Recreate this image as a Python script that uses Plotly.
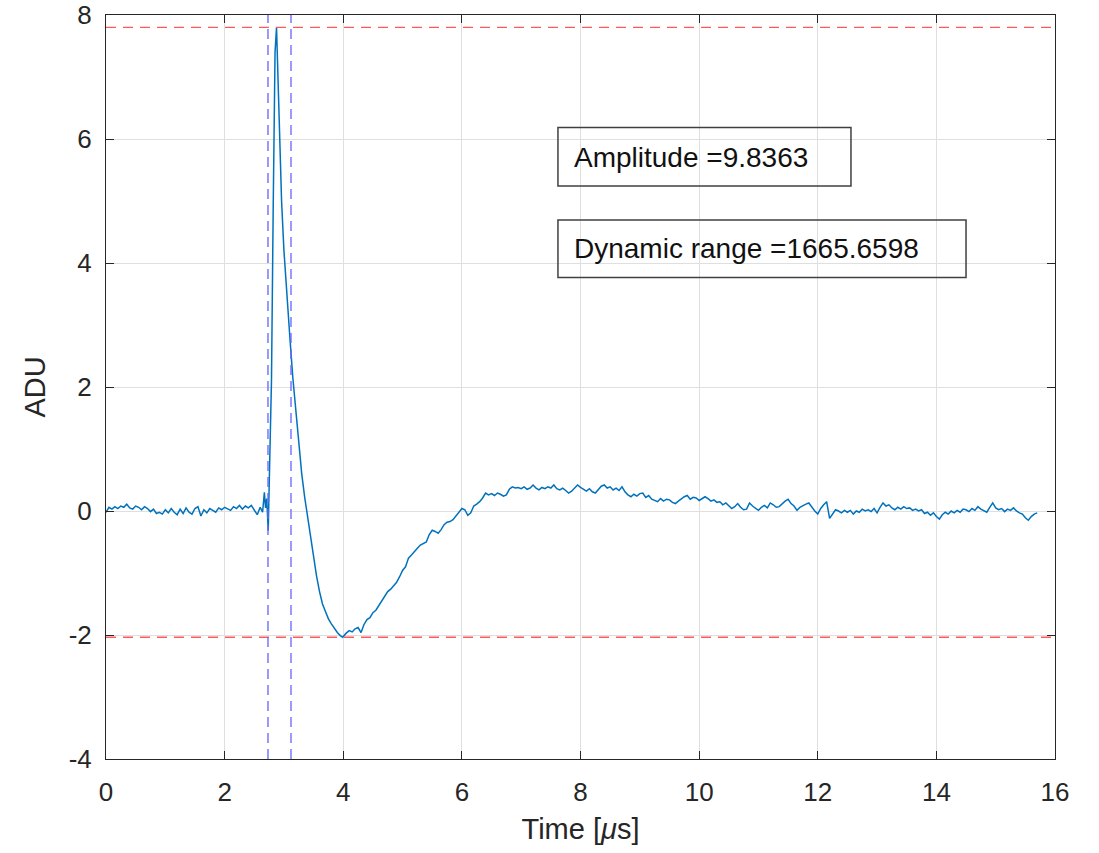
import plotly.graph_objects as go

# ---- data (time in microseconds, signal in ADU) ----
baseline = [(0.00,-0.02),(0.05,0.06),(0.10,0.03),(0.15,0.07),(0.20,0.04),(0.25,0.08),(0.30,0.06),
            (0.35,0.11),(0.40,0.05),(0.45,0.03),(0.50,0.08),(0.55,0.06),(0.60,0.02),(0.65,0.07),
            (0.70,0.04),(0.75,-0.01),(0.80,0.03),(0.85,-0.04),(0.90,-0.02),(0.95,-0.05),(1.00,0.02),
            (1.05,-0.03),(1.10,0.04),(1.15,-0.02),(1.20,-0.06),(1.25,0.03),(1.30,-0.04),(1.35,0.05),
            (1.40,-0.02),(1.45,-0.05),(1.50,0.04),(1.55,0.07),(1.60,-0.08),(1.65,0.02),(1.70,-0.03),
            (1.75,0.04),(1.80,0.01),(1.85,-0.02),(1.90,0.05),(1.95,0.02),(2.00,0.06),(2.05,0.03),
            (2.10,0.01),(2.15,0.07),(2.20,0.04),(2.25,0.09),(2.30,0.03),(2.35,0.08),(2.40,0.05),
            (2.45,0.09),(2.50,0.02),(2.55,-0.06),(2.60,0.06)]

pulse_time = [2.64,2.67,2.69,2.71,2.735,2.76,2.79,2.82,2.85,2.875,2.90,2.93,2.96,3.00,3.05,
              3.10,3.15,3.20,3.25,3.30,3.35,3.40,3.45,3.50,3.55,3.60,3.65,3.70,3.75,3.80,
              3.85,3.90,3.95,3.99]
pulse_adu = [-0.02,0.30,0.05,0.20,-0.32,0.80,2.10,4.98,7.40,7.80,6.90,5.90,5.00,4.20,3.40,
             2.80,2.15,1.60,1.05,0.60,0.22,-0.10,-0.45,-0.80,-1.05,-1.30,-1.50,-1.62,-1.74,-1.82,
             -1.90,-1.96,-2.01,-2.036]

recovery = [(4.05,-1.97),(4.10,-1.93),(4.15,-1.95),(4.20,-1.90),(4.25,-1.88),(4.30,-1.96),(4.35,-1.83),
            (4.40,-1.75),(4.45,-1.72),(4.50,-1.64),(4.55,-1.60),(4.60,-1.52),(4.65,-1.45),(4.70,-1.36),
            (4.75,-1.30),(4.80,-1.26),(4.85,-1.20),(4.90,-1.15),(4.95,-1.06),(5.00,-0.96),(5.05,-0.90),
            (5.10,-0.76),(5.15,-0.71),(5.20,-0.65),(5.25,-0.60),(5.30,-0.55),(5.35,-0.53),(5.40,-0.50),
            (5.45,-0.38),(5.50,-0.31),(5.55,-0.33),(5.60,-0.36),(5.65,-0.30),(5.70,-0.22),(5.75,-0.18),
            (5.80,-0.17),(5.85,-0.14),(5.90,-0.08),(5.95,-0.01),(6.00,0.04)]

plateau = [(6.05,0.02),(6.10,-0.07),(6.15,-0.03),(6.20,0.08),(6.25,0.11),(6.30,0.15),(6.35,0.21),
           (6.40,0.29),(6.45,0.26),(6.50,0.28),(6.55,0.25),(6.60,0.29),(6.65,0.27),(6.70,0.24),
           (6.75,0.26),(6.80,0.35),(6.85,0.39),(6.90,0.37),(6.95,0.38),(7.00,0.36),(7.05,0.39),
           (7.10,0.35),(7.15,0.37),(7.20,0.42),(7.25,0.37),(7.30,0.34),(7.35,0.38),(7.40,0.36),
           (7.45,0.39),(7.50,0.37),(7.55,0.42),(7.60,0.36),(7.65,0.34),(7.70,0.37),(7.75,0.33),
           (7.80,0.29),(7.85,0.32),(7.90,0.37),(7.95,0.42),(8.00,0.38),(8.05,0.35),(8.10,0.32),
           (8.15,0.36),(8.20,0.31),(8.25,0.29),(8.30,0.34),(8.35,0.40),(8.40,0.42),(8.45,0.37),
           (8.50,0.39),(8.55,0.34),(8.60,0.37),(8.65,0.33),(8.70,0.39),(8.75,0.31),(8.80,0.26),
           (8.85,0.23),(8.90,0.27),(8.95,0.24),(9.00,0.28),(9.05,0.29),(9.10,0.22),(9.15,0.25),
           (9.20,0.19),(9.25,0.17),(9.30,0.15),(9.35,0.20),(9.40,0.16),(9.45,0.19),(9.50,0.18),
           (9.55,0.14),(9.60,0.12),(9.65,0.16),(9.70,0.20),(9.75,0.23),(9.80,0.25),(9.85,0.19),
           (9.90,0.22),(9.95,0.21),(10.00,0.17),(10.05,0.20),(10.10,0.23),(10.15,0.20),(10.20,0.16),
           (10.25,0.18),(10.30,0.14),(10.35,0.15),(10.40,0.10),(10.45,0.13),(10.50,0.08),(10.55,0.04),
           (10.60,0.07),(10.65,0.12),(10.70,0.06),(10.75,0.02)]

tail = [(10.80,0.03),(10.85,0.13),(10.90,0.08),(10.95,0.04),(11.00,0.01),(11.05,0.06),(11.10,0.09),
        (11.15,0.05),(11.20,0.13),(11.25,0.10),(11.30,0.06),(11.35,0.07),(11.40,0.12),(11.45,0.16),
        (11.50,0.19),(11.55,0.12),(11.60,0.08),(11.65,0.01),(11.70,0.06),(11.75,0.09),(11.80,0.11),
        (11.85,0.13),(11.90,0.06),(11.95,0.00),(12.00,-0.05),(12.05,0.04),(12.10,0.10),(12.15,0.15),
        (12.20,-0.12),(12.25,-0.04),(12.30,0.02),(12.35,0.00),(12.40,-0.03),(12.45,0.01),(12.50,-0.02),
        (12.55,0.01),(12.60,-0.05),(12.65,0.00),(12.70,-0.02),(12.75,0.03),(12.80,0.00),(12.85,0.02),
        (12.90,-0.01),(12.95,0.04),(13.00,-0.03),(13.05,0.06),(13.10,0.13),(13.15,0.08),(13.20,0.10),
        (13.25,0.05),(13.30,0.02),(13.35,0.06),(13.40,0.03),(13.45,0.07),(13.50,0.04),(13.55,0.05),
        (13.60,0.01),(13.65,0.03),(13.70,0.00),(13.75,0.02),(13.80,-0.04),(13.85,-0.02),(13.90,-0.07),
        (13.95,-0.03),(14.00,-0.09),(14.05,-0.13),(14.10,-0.06),(14.15,-0.02),(14.20,-0.05),(14.25,0.00),
        (14.30,-0.03),(14.35,0.01),(14.40,-0.02),(14.45,0.03),(14.50,0.02),(14.55,-0.01),(14.60,0.04),
        (14.65,0.01),(14.70,0.07),(14.75,0.03),(14.80,0.00),(14.85,-0.02),(14.90,0.06),(14.95,0.13),
        (15.00,0.05),(15.05,0.02),(15.10,0.04),(15.15,-0.01),(15.20,0.03),(15.25,0.01),(15.30,0.05),
        (15.35,0.00),(15.40,-0.03),(15.45,-0.05),(15.50,-0.11),(15.55,-0.15),(15.60,-0.09),(15.65,-0.05),
        (15.70,-0.03)]

max_level = 7.80
min_level = -2.036
pulse_start = 2.731
pulse_end = 3.119
amplitude_text = "Amplitude =9.8363"
range_text = "Dynamic range =1665.6598"

x_ticks = [0, 2, 4, 6, 8, 10, 12, 14, 16]
x_tick_labels = ["0", "2", "4", "6", "8", "10", "12", "14", "16"]
y_ticks = [-4, -2, 0, 2, 4, 6, 8]
y_tick_labels = ["-4", "-2", "0", "2", "4", "6", "8"]

# ---- assemble series ----
time = [p[0] for p in baseline] + pulse_time + [p[0] for p in recovery] + \
       [p[0] for p in plateau] + [p[0] for p in tail]
adu = [p[1] for p in baseline] + pulse_adu + [p[1] for p in recovery] + \
      [p[1] for p in plateau] + [p[1] for p in tail]

FONT = "Liberation Sans, Arial, Helvetica, sans-serif"
AX = "#262626"

fig = go.Figure()
fig.add_trace(go.Scatter(x=time, y=adu, mode="lines",
                         line=dict(color="#0072BD", width=1.5), showlegend=False))

red = "#ff5a5a"
blue = "#6464ff"
for lvl in (max_level, min_level):
    fig.add_shape(type="line", xref="x", yref="y", x0=0, x1=16, y0=lvl, y1=lvl,
                  line=dict(color=red, width=1.3, dash="10px,7px"), layer="above")
for xv in (pulse_start, pulse_end):
    fig.add_shape(type="line", xref="x", yref="y", x0=xv, x1=xv, y0=-4, y1=8,
                  line=dict(color=blue, width=1.3, dash="10px,6px"), layer="above")

# text boxes
fig.add_shape(type="rect", xref="x", yref="y", x0=7.62, x1=12.56, y0=5.24, y1=6.187,
              line=dict(color="#404040", width=1.5), fillcolor="rgba(0,0,0,0)", layer="above")
fig.add_shape(type="rect", xref="x", yref="y", x0=7.62, x1=14.50, y0=3.765, y1=4.695,
              line=dict(color="#404040", width=1.5), fillcolor="rgba(0,0,0,0)", layer="above")
fig.add_annotation(x=7.85, y=5.706, xref="x", yref="y", text=amplitude_text, showarrow=False,
                   xanchor="left", yanchor="middle", font=dict(family=FONT, size=28, color="#111"))
fig.add_annotation(x=7.85, y=4.23, xref="x", yref="y", text=range_text, showarrow=False,
                   xanchor="left", yanchor="middle", font=dict(family=FONT, size=28, color="#111"))

axis_common = dict(showline=True, linecolor=AX, linewidth=1, mirror="ticks",
                   ticks="inside", ticklen=8, tickwidth=1, tickcolor=AX,
                   showgrid=True, gridcolor="#dfdfdf", gridwidth=1, zeroline=False,
                   ticklabeloverflow="allow", automargin=False,
                   tickfont=dict(family=FONT, size=26, color=AX))

fig.update_layout(
    width=1099, height=853,
    margin=dict(l=106, r=44, t=15, b=94),
    paper_bgcolor="white", plot_bgcolor="white",
    xaxis=dict(range=[0, 16], tickvals=x_ticks, ticktext=x_tick_labels,
               ticklabelstandoff=10,
               title=dict(text="Time [<i>μ</i>s]", font=dict(family=FONT, size=29, color=AX), standoff=12),
               **axis_common),
    yaxis=dict(range=[-4, 8], tickvals=y_ticks, ticktext=y_tick_labels,
               ticklabelstandoff=8,
               title=dict(text="ADU", font=dict(family=FONT, size=29, color=AX), standoff=14),
               **axis_common),
)

fig.write_html("out.html")
